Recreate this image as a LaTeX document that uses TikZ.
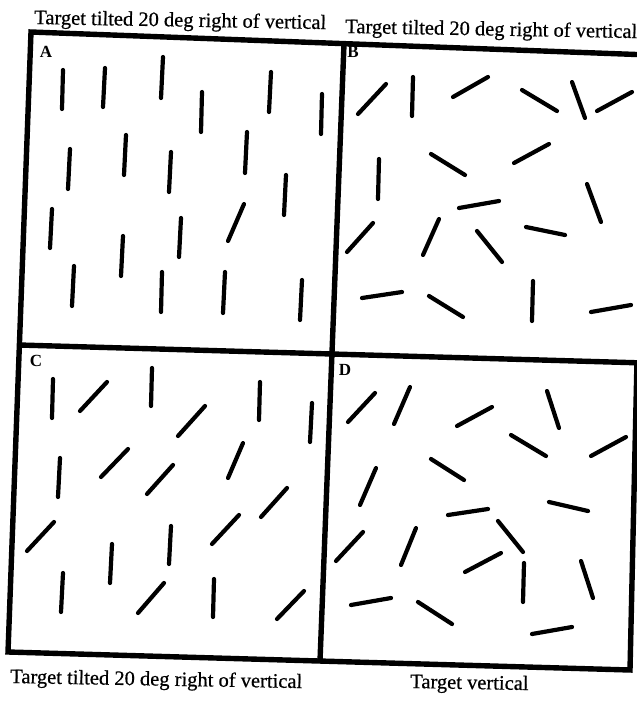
\documentclass[tikz,border=0pt]{standalone}
\usepackage{fontspec}
\setmainfont{Liberation Serif}
\newfontfamily\capfont[FakeBold=0.6]{Liberation Serif}
\begin{document}
\begin{tikzpicture}[x=1pt,y=-1pt,
  seg/.style={line width=4.2pt,line cap=round},
  frameline/.style={line width=5.4pt,line join=miter},
  caption/.style={font=\capfont\fontsize{20.5}{24}\selectfont,inner sep=0pt,anchor=base west,rotate=-1},
  panel/.style={font=\fontsize{17}{20}\selectfont\bfseries,inner sep=0pt}]
\useasboundingbox (0,0) rectangle (637,702);
\clip (0,0) rectangle (637,702);
% frame
\coordinate (TL) at (31,32);
\coordinate (TR) at (650,55);
\coordinate (RM) at (637,361);
\coordinate (BR) at (630,670);
\coordinate (BL) at (8,652);
\coordinate (TM) at (344,44);
\coordinate (BM) at (320,661);
\coordinate (ML) at (19,345);
\coordinate (MR) at (645,363);
\draw[frameline] (TR) -- (TL) -- (BL) -- (BR) -- (RM);
\draw[frameline] (TM) -- (BM);
\draw[frameline] (ML) -- (MR);
% captions
\node[caption] (capA) at (34,24) {Target tilted 20 deg right of vertical};
\node[caption] (capB) at (345,33) {Target tilted 20 deg right of vertical};
\node[caption] (capC) at (10,683) {Target tilted 20 deg right of vertical};
\node[caption] (capD) at (410,688) {Target vertical};
% panel letters
\node[panel] (lA) at (46,52) {A};
\node[panel] (lB) at (353,52) {B};
\node[panel] (lC) at (36,361) {C};
\node[panel] (lD) at (345,370) {D};
% panel A
\foreach \a/\b/\c/\d in {63/70/62/109, 105/68/103/107, 163/57/161/98, 202/92/201/132,
  271/72/269/112, 322/94/321/134, 70/149/68/189, 126/135/124/175, 171/152/169/192,
  247/132/245/173, 286/175/284/215, 52/209/50/248, 244/204/228/241, 181/218/179/257,
  123/236/121/276, 74/266/72/306, 162/272/161/312, 225/272/223/313, 302/280/300/320}
  \draw[seg] (\a,\b) -- (\c,\d);
% panel B
\foreach \a/\b/\c/\d in {358/114/386/84, 413/77/412/116, 453/97/488/77, 522/90/557/111,
  572/82/585/118, 597/111/632/92, 379/159/378/199, 431/154/465/175, 514/163/549/144,
  459/208/499/201, 587/184/601/222, 347/252/373/223, 423/255/439/219, 477/231/502/262,
  526/227/565/235, 362/298/402/292, 429/296/463/317, 533/281/532/321, 591/312/631/305}
  \draw[seg] (\a,\b) -- (\c,\d);
% panel C
\foreach \a/\b/\c/\d in {53/379/52/418, 80/411/107/382, 152/368/151/406, 260/382/259/420,
  312/403/310/442, 178/436/205/406, 60/458/58/497, 101/477/128/449, 147/494/173/465,
  228/478/243/443, 27/551/54/522, 112/544/110/583, 171/526/169/564, 212/544/239/515,
  261/517/287/488, 63/573/61/612, 138/613/164/583, 214/579/213/617, 277/619/304/591}
  \draw[seg] (\a,\b) -- (\c,\d);
% panel D
\foreach \a/\b/\c/\d in {348/422/375/393, 394/424/410/387, 457/426/492/407, 547/391/559/428,
  511/435/546/456, 591/456/626/437, 376/468/360/505, 431/459/464/480, 448/515/488/509,
  549/502/588/511, 363/532/336/561, 416/528/401/565, 498/521/523/552, 465/572/501/553,
  524/563/523/602, 581/561/593/598, 351/605/391/598, 418/602/452/624, 532/634/572/627}
  \draw[seg] (\a,\b) -- (\c,\d);
\end{tikzpicture}
\end{document}
